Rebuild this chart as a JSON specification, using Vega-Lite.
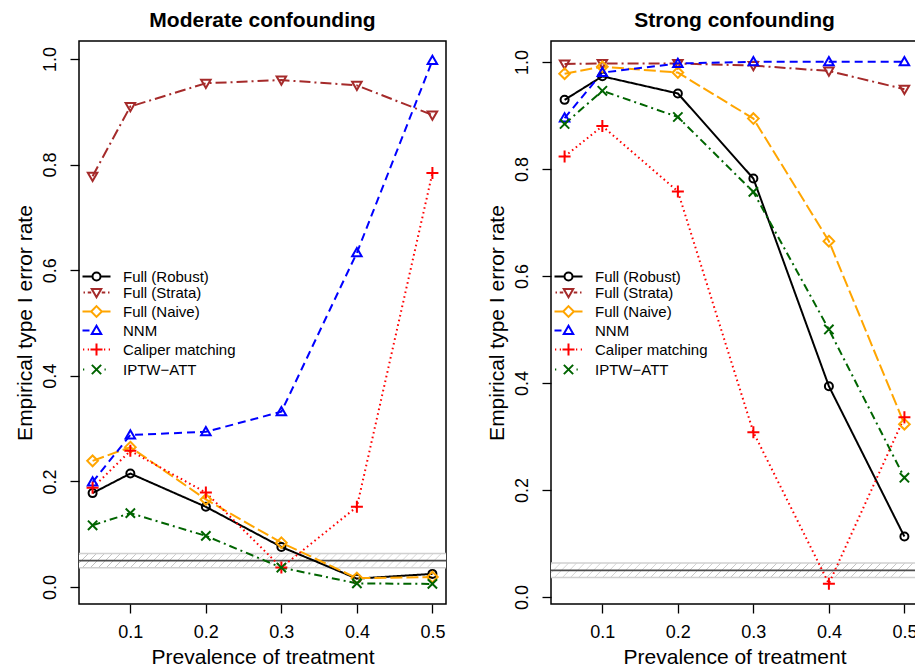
{
  "$schema": "https://vega.github.io/schema/vega-lite/v6.json",
  "background": "white",
  "padding": {"left": 13, "top": 9, "right": 0, "bottom": 0},
  "datasets": {
    "band": [{"lo": 0.0365, "hi": 0.0635, "nominal": 0.05}],
    "d": [
      {"panel": "Moderate", "method": "Full (Robust)", "x": 0.05, "y": 0.178},
      {"panel": "Moderate", "method": "Full (Robust)", "x": 0.1, "y": 0.215},
      {"panel": "Moderate", "method": "Full (Robust)", "x": 0.2, "y": 0.152},
      {"panel": "Moderate", "method": "Full (Robust)", "x": 0.3, "y": 0.076},
      {"panel": "Moderate", "method": "Full (Robust)", "x": 0.4, "y": 0.016},
      {"panel": "Moderate", "method": "Full (Robust)", "x": 0.5, "y": 0.025},
      {"panel": "Moderate", "method": "Full (Strata)", "x": 0.05, "y": 0.778},
      {"panel": "Moderate", "method": "Full (Strata)", "x": 0.1, "y": 0.910},
      {"panel": "Moderate", "method": "Full (Strata)", "x": 0.2, "y": 0.954},
      {"panel": "Moderate", "method": "Full (Strata)", "x": 0.3, "y": 0.960},
      {"panel": "Moderate", "method": "Full (Strata)", "x": 0.4, "y": 0.950},
      {"panel": "Moderate", "method": "Full (Strata)", "x": 0.5, "y": 0.894},
      {"panel": "Moderate", "method": "Full (Naive)", "x": 0.05, "y": 0.239},
      {"panel": "Moderate", "method": "Full (Naive)", "x": 0.1, "y": 0.265},
      {"panel": "Moderate", "method": "Full (Naive)", "x": 0.2, "y": 0.166},
      {"panel": "Moderate", "method": "Full (Naive)", "x": 0.3, "y": 0.084},
      {"panel": "Moderate", "method": "Full (Naive)", "x": 0.4, "y": 0.017},
      {"panel": "Moderate", "method": "Full (Naive)", "x": 0.5, "y": 0.019},
      {"panel": "Moderate", "method": "NNM", "x": 0.05, "y": 0.199},
      {"panel": "Moderate", "method": "NNM", "x": 0.1, "y": 0.288},
      {"panel": "Moderate", "method": "NNM", "x": 0.2, "y": 0.294},
      {"panel": "Moderate", "method": "NNM", "x": 0.3, "y": 0.332},
      {"panel": "Moderate", "method": "NNM", "x": 0.4, "y": 0.633},
      {"panel": "Moderate", "method": "NNM", "x": 0.5, "y": 0.997},
      {"panel": "Moderate", "method": "Caliper matching", "x": 0.05, "y": 0.188},
      {"panel": "Moderate", "method": "Caliper matching", "x": 0.1, "y": 0.258},
      {"panel": "Moderate", "method": "Caliper matching", "x": 0.2, "y": 0.179},
      {"panel": "Moderate", "method": "Caliper matching", "x": 0.3, "y": 0.037},
      {"panel": "Moderate", "method": "Caliper matching", "x": 0.4, "y": 0.152},
      {"panel": "Moderate", "method": "Caliper matching", "x": 0.5, "y": 0.784},
      {"panel": "Moderate", "method": "IPTW−ATT", "x": 0.05, "y": 0.117},
      {"panel": "Moderate", "method": "IPTW−ATT", "x": 0.1, "y": 0.140},
      {"panel": "Moderate", "method": "IPTW−ATT", "x": 0.2, "y": 0.097},
      {"panel": "Moderate", "method": "IPTW−ATT", "x": 0.3, "y": 0.037},
      {"panel": "Moderate", "method": "IPTW−ATT", "x": 0.4, "y": 0.007},
      {"panel": "Moderate", "method": "IPTW−ATT", "x": 0.5, "y": 0.006},
      {"panel": "Strong", "method": "Full (Robust)", "x": 0.05, "y": 0.929},
      {"panel": "Strong", "method": "Full (Robust)", "x": 0.1, "y": 0.973},
      {"panel": "Strong", "method": "Full (Robust)", "x": 0.2, "y": 0.941},
      {"panel": "Strong", "method": "Full (Robust)", "x": 0.3, "y": 0.782},
      {"panel": "Strong", "method": "Full (Robust)", "x": 0.4, "y": 0.394},
      {"panel": "Strong", "method": "Full (Robust)", "x": 0.5, "y": 0.113},
      {"panel": "Strong", "method": "Full (Strata)", "x": 0.05, "y": 0.996},
      {"panel": "Strong", "method": "Full (Strata)", "x": 0.1, "y": 0.997},
      {"panel": "Strong", "method": "Full (Strata)", "x": 0.2, "y": 0.997},
      {"panel": "Strong", "method": "Full (Strata)", "x": 0.3, "y": 0.993},
      {"panel": "Strong", "method": "Full (Strata)", "x": 0.4, "y": 0.983},
      {"panel": "Strong", "method": "Full (Strata)", "x": 0.5, "y": 0.949},
      {"panel": "Strong", "method": "Full (Naive)", "x": 0.05, "y": 0.978},
      {"panel": "Strong", "method": "Full (Naive)", "x": 0.1, "y": 0.991},
      {"panel": "Strong", "method": "Full (Naive)", "x": 0.2, "y": 0.980},
      {"panel": "Strong", "method": "Full (Naive)", "x": 0.3, "y": 0.894},
      {"panel": "Strong", "method": "Full (Naive)", "x": 0.4, "y": 0.665},
      {"panel": "Strong", "method": "Full (Naive)", "x": 0.5, "y": 0.323},
      {"panel": "Strong", "method": "NNM", "x": 0.05, "y": 0.895},
      {"panel": "Strong", "method": "NNM", "x": 0.1, "y": 0.980},
      {"panel": "Strong", "method": "NNM", "x": 0.2, "y": 0.997},
      {"panel": "Strong", "method": "NNM", "x": 0.3, "y": 1.0},
      {"panel": "Strong", "method": "NNM", "x": 0.4, "y": 1.0},
      {"panel": "Strong", "method": "NNM", "x": 0.5, "y": 1.0},
      {"panel": "Strong", "method": "Caliper matching", "x": 0.05, "y": 0.823},
      {"panel": "Strong", "method": "Caliper matching", "x": 0.1, "y": 0.880},
      {"panel": "Strong", "method": "Caliper matching", "x": 0.2, "y": 0.758},
      {"panel": "Strong", "method": "Caliper matching", "x": 0.3, "y": 0.308},
      {"panel": "Strong", "method": "Caliper matching", "x": 0.4, "y": 0.025},
      {"panel": "Strong", "method": "Caliper matching", "x": 0.5, "y": 0.336},
      {"panel": "Strong", "method": "IPTW−ATT", "x": 0.05, "y": 0.884},
      {"panel": "Strong", "method": "IPTW−ATT", "x": 0.1, "y": 0.946},
      {"panel": "Strong", "method": "IPTW−ATT", "x": 0.2, "y": 0.897},
      {"panel": "Strong", "method": "IPTW−ATT", "x": 0.3, "y": 0.757},
      {"panel": "Strong", "method": "IPTW−ATT", "x": 0.4, "y": 0.500},
      {"panel": "Strong", "method": "IPTW−ATT", "x": 0.5, "y": 0.223}
    ]
  },
  "spacing": 37,
  "resolve": {
    "scale": {"x": "independent", "y": "independent", "color": "independent", "shape": "independent", "strokeDash": "independent"},
    "legend": {"color": "independent"},
    "axis": {"x": "independent", "y": "independent"}
  },
  "hconcat": [
    {
      "width": 367, "height": 563,
      "title": {"text": "Moderate confounding"},
      "layer": [
        {"data": {"name": "band"},
         "mark": {"type": "rect", "color": {"gradient": "linear", "x1": 0, "y1": 0, "x2": 1, "y2": 0.039, "stops": [
          {"offset": 0, "color": "#ffffff"},
          {"offset": 0.002, "color": "#ffffff"}, {"offset": 0.004, "color": "#bdbdbd"}, {"offset": 0.006, "color": "#ffffff"},
          {"offset": 0.0238, "color": "#ffffff"}, {"offset": 0.0258, "color": "#bdbdbd"}, {"offset": 0.0278, "color": "#ffffff"},
          {"offset": 0.0456, "color": "#ffffff"}, {"offset": 0.0476, "color": "#bdbdbd"}, {"offset": 0.0496, "color": "#ffffff"},
          {"offset": 0.0674, "color": "#ffffff"}, {"offset": 0.0694, "color": "#bdbdbd"}, {"offset": 0.0714, "color": "#ffffff"},
          {"offset": 0.0892, "color": "#ffffff"}, {"offset": 0.0912, "color": "#bdbdbd"}, {"offset": 0.0932, "color": "#ffffff"},
          {"offset": 0.111, "color": "#ffffff"}, {"offset": 0.113, "color": "#bdbdbd"}, {"offset": 0.115, "color": "#ffffff"},
          {"offset": 0.1328, "color": "#ffffff"}, {"offset": 0.1348, "color": "#bdbdbd"}, {"offset": 0.1368, "color": "#ffffff"},
          {"offset": 0.1546, "color": "#ffffff"}, {"offset": 0.1566, "color": "#bdbdbd"}, {"offset": 0.1586, "color": "#ffffff"},
          {"offset": 0.1764, "color": "#ffffff"}, {"offset": 0.1784, "color": "#bdbdbd"}, {"offset": 0.1804, "color": "#ffffff"},
          {"offset": 0.1982, "color": "#ffffff"}, {"offset": 0.2002, "color": "#bdbdbd"}, {"offset": 0.2022, "color": "#ffffff"},
          {"offset": 0.22, "color": "#ffffff"}, {"offset": 0.222, "color": "#bdbdbd"}, {"offset": 0.224, "color": "#ffffff"},
          {"offset": 0.2418, "color": "#ffffff"}, {"offset": 0.2438, "color": "#bdbdbd"}, {"offset": 0.2458, "color": "#ffffff"},
          {"offset": 0.2636, "color": "#ffffff"}, {"offset": 0.2656, "color": "#bdbdbd"}, {"offset": 0.2676, "color": "#ffffff"},
          {"offset": 0.2854, "color": "#ffffff"}, {"offset": 0.2874, "color": "#bdbdbd"}, {"offset": 0.2894, "color": "#ffffff"},
          {"offset": 0.3072, "color": "#ffffff"}, {"offset": 0.3092, "color": "#bdbdbd"}, {"offset": 0.3112, "color": "#ffffff"},
          {"offset": 0.329, "color": "#ffffff"}, {"offset": 0.331, "color": "#bdbdbd"}, {"offset": 0.333, "color": "#ffffff"},
          {"offset": 0.3508, "color": "#ffffff"}, {"offset": 0.3528, "color": "#bdbdbd"}, {"offset": 0.3548, "color": "#ffffff"},
          {"offset": 0.3726, "color": "#ffffff"}, {"offset": 0.3746, "color": "#bdbdbd"}, {"offset": 0.3766, "color": "#ffffff"},
          {"offset": 0.3944, "color": "#ffffff"}, {"offset": 0.3964, "color": "#bdbdbd"}, {"offset": 0.3984, "color": "#ffffff"},
          {"offset": 0.4162, "color": "#ffffff"}, {"offset": 0.4182, "color": "#bdbdbd"}, {"offset": 0.4202, "color": "#ffffff"},
          {"offset": 0.438, "color": "#ffffff"}, {"offset": 0.44, "color": "#bdbdbd"}, {"offset": 0.442, "color": "#ffffff"},
          {"offset": 0.4598, "color": "#ffffff"}, {"offset": 0.4618, "color": "#bdbdbd"}, {"offset": 0.4638, "color": "#ffffff"},
          {"offset": 0.4816, "color": "#ffffff"}, {"offset": 0.4836, "color": "#bdbdbd"}, {"offset": 0.4856, "color": "#ffffff"},
          {"offset": 0.5034, "color": "#ffffff"}, {"offset": 0.5054, "color": "#bdbdbd"}, {"offset": 0.5074, "color": "#ffffff"},
          {"offset": 0.5252, "color": "#ffffff"}, {"offset": 0.5272, "color": "#bdbdbd"}, {"offset": 0.5292, "color": "#ffffff"},
          {"offset": 0.547, "color": "#ffffff"}, {"offset": 0.549, "color": "#bdbdbd"}, {"offset": 0.551, "color": "#ffffff"},
          {"offset": 0.5688, "color": "#ffffff"}, {"offset": 0.5708, "color": "#bdbdbd"}, {"offset": 0.5728, "color": "#ffffff"},
          {"offset": 0.5906, "color": "#ffffff"}, {"offset": 0.5926, "color": "#bdbdbd"}, {"offset": 0.5946, "color": "#ffffff"},
          {"offset": 0.6124, "color": "#ffffff"}, {"offset": 0.6144, "color": "#bdbdbd"}, {"offset": 0.6164, "color": "#ffffff"},
          {"offset": 0.6342, "color": "#ffffff"}, {"offset": 0.6362, "color": "#bdbdbd"}, {"offset": 0.6382, "color": "#ffffff"},
          {"offset": 0.656, "color": "#ffffff"}, {"offset": 0.658, "color": "#bdbdbd"}, {"offset": 0.66, "color": "#ffffff"},
          {"offset": 0.6778, "color": "#ffffff"}, {"offset": 0.6798, "color": "#bdbdbd"}, {"offset": 0.6818, "color": "#ffffff"},
          {"offset": 0.6996, "color": "#ffffff"}, {"offset": 0.7016, "color": "#bdbdbd"}, {"offset": 0.7036, "color": "#ffffff"},
          {"offset": 0.7214, "color": "#ffffff"}, {"offset": 0.7234, "color": "#bdbdbd"}, {"offset": 0.7254, "color": "#ffffff"},
          {"offset": 0.7432, "color": "#ffffff"}, {"offset": 0.7452, "color": "#bdbdbd"}, {"offset": 0.7472, "color": "#ffffff"},
          {"offset": 0.765, "color": "#ffffff"}, {"offset": 0.767, "color": "#bdbdbd"}, {"offset": 0.769, "color": "#ffffff"},
          {"offset": 0.7868, "color": "#ffffff"}, {"offset": 0.7888, "color": "#bdbdbd"}, {"offset": 0.7908, "color": "#ffffff"},
          {"offset": 0.8086, "color": "#ffffff"}, {"offset": 0.8106, "color": "#bdbdbd"}, {"offset": 0.8126, "color": "#ffffff"},
          {"offset": 0.8304, "color": "#ffffff"}, {"offset": 0.8324, "color": "#bdbdbd"}, {"offset": 0.8344, "color": "#ffffff"},
          {"offset": 0.8522, "color": "#ffffff"}, {"offset": 0.8542, "color": "#bdbdbd"}, {"offset": 0.8562, "color": "#ffffff"},
          {"offset": 0.874, "color": "#ffffff"}, {"offset": 0.876, "color": "#bdbdbd"}, {"offset": 0.878, "color": "#ffffff"},
          {"offset": 0.8958, "color": "#ffffff"}, {"offset": 0.8978, "color": "#bdbdbd"}, {"offset": 0.8998, "color": "#ffffff"},
          {"offset": 0.9176, "color": "#ffffff"}, {"offset": 0.9196, "color": "#bdbdbd"}, {"offset": 0.9216, "color": "#ffffff"},
          {"offset": 0.9394, "color": "#ffffff"}, {"offset": 0.9414, "color": "#bdbdbd"}, {"offset": 0.9434, "color": "#ffffff"},
          {"offset": 0.9612, "color": "#ffffff"}, {"offset": 0.9632, "color": "#bdbdbd"}, {"offset": 0.9652, "color": "#ffffff"},
          {"offset": 0.983, "color": "#ffffff"}, {"offset": 0.985, "color": "#bdbdbd"}, {"offset": 0.987, "color": "#ffffff"},
          {"offset": 1, "color": "#ffffff"}]}},
         "encoding": {"y": {"field": "lo", "type": "quantitative", "title": "Empirical type I error rate", "scale": {"domain": [-0.032, 1.034], "nice": false, "zero": false}, "axis": {"values": [0, 0.2, 0.4, 0.6, 0.8, 1], "format": ".1f"}}, "y2": {"field": "hi"}}},
        {"data": {"name": "band"}, "mark": {"type": "rule", "color": "#d0d0d0", "strokeWidth": 1.5},
         "encoding": {"y": {"field": "lo", "type": "quantitative", "title": "Empirical type I error rate"}}},
        {"data": {"name": "band"}, "mark": {"type": "rule", "color": "#d0d0d0", "strokeWidth": 1.5},
         "encoding": {"y": {"field": "hi", "type": "quantitative", "title": "Empirical type I error rate"}}},
        {"data": {"name": "band"}, "mark": {"type": "rule", "color": "#4d4d4d", "strokeWidth": 1.8},
         "encoding": {"y": {"field": "nominal", "type": "quantitative", "title": "Empirical type I error rate"}}},
        {"data": {"name": "d"}, "transform": [{"filter": "datum.panel === 'Moderate'"}],
         "mark": {"type": "line", "strokeWidth": 2},
         "encoding": {
           "x": {"field": "x", "type": "quantitative", "title": "Prevalence of treatment", "scale": {"domain": [0.032, 0.518], "nice": false, "zero": false}, "axis": {"values": [0.1, 0.2, 0.3, 0.4, 0.5], "format": ".1f"}},
           "y": {"field": "y", "type": "quantitative", "title": "Empirical type I error rate"},
           "color": {"field": "method", "type": "nominal",
             "scale": {"domain": ["Full (Robust)", "Full (Strata)", "Full (Naive)", "NNM", "Caliper matching", "IPTW−ATT"], "range": ["#000000", "#A52A2A", "#FFA500", "#0000FF", "#FF0000", "#006400"]},
             "legend": {"title": null, "orient": "none", "legendX": 10, "legendY": 228, "padding": 0, "rowPadding": 0, "labelOffset": 19, "symbolSize": 100, "labelLimit": 400,
               "encode": {"symbols": {"update": {
                 "shape": {"signal": "datum.value === 'Full (Robust)' ? 'M-2.8,0H-0.8M0.8,0H2.8M0.8,0A0.8,0.8,0,1,1,-0.8,0A0.8,0.8,0,1,1,0.8,0Z' : datum.value === 'Full (Strata)' ? 'M-2.6,0H-2.3M-1.75,0H-1.05M1.05,0H1.75M2.3,0H2.6M-0.95,-0.7L0.95,-0.7L0,0.95Z' : datum.value === 'Full (Naive)' ? 'M-2.8,0H-1.07M1.07,0H2.8M0,-1.07L1.07,0L0,1.07L-1.07,0Z' : datum.value === 'NNM' ? 'M-2.8,0H-1.4M0,-0.95L0.95,0.7L-0.95,0.7Z' : datum.value === 'Caliper matching' ? 'M-2.7,0H-2.45M-1.75,0H-1.5M1.5,0H1.75M2.45,0H2.7M-1.2,0H1.2M0,-1.2V1.2' : 'M-2.7,0H-2.45M1.6,0H1.85M-0.93,-0.93L0.93,0.93M0.93,-0.93L-0.93,0.93'"},
                 "fill": {"value": "transparent"}, "strokeWidth": {"value": 2}, "strokeDash": {"value": []}, "opacity": {"value": 1}, "size": {"value": 100}}}}}},
           "strokeDash": {"field": "method", "type": "nominal", "legend": null,
             "scale": {"domain": ["IPTW−ATT", "Caliper matching", "NNM", "Full (Naive)", "Full (Strata)", "Full (Robust)"], "range": [[8, 4, 2, 4], [1.6, 3.2], [8, 5], [12, 4], [11, 4, 2, 4], [1, 0]]}}
         }},
        {"data": {"name": "d"}, "transform": [{"filter": "datum.panel === 'Moderate'"}],
         "mark": {"type": "point", "filled": false, "size": 100, "strokeWidth": 2, "opacity": 1},
         "encoding": {
           "x": {"field": "x", "type": "quantitative", "title": "Prevalence of treatment"},
           "y": {"field": "y", "type": "quantitative", "title": "Empirical type I error rate"},
           "color": {"field": "method", "type": "nominal", "legend": null},
           "shape": {"field": "method", "type": "nominal", "legend": null,
             "scale": {"domain": ["IPTW−ATT", "Caliper matching", "NNM", "Full (Naive)", "Full (Strata)", "Full (Robust)"], "range": ["M-0.93,-0.93L0.93,0.93M0.93,-0.93L-0.93,0.93", "M-1.2,0H1.2M0,-1.2V1.2", "M0,-0.95L0.95,0.7L-0.95,0.7Z", "M0,-1.07L1.07,0L0,1.07L-1.07,0Z", "M-0.95,-0.7L0.95,-0.7L0,0.95Z", "M0.8,0A0.8,0.8,0,1,1,-0.8,0A0.8,0.8,0,1,1,0.8,0Z"]}}
         }}
      ]
    },
    {
      "width": 367, "height": 563,
      "title": {"text": "Strong confounding"},
      "layer": [
        {"data": {"name": "band"},
         "mark": {"type": "rect", "color": {"gradient": "linear", "x1": 0, "y1": 0, "x2": 1, "y2": 0.039, "stops": [
          {"offset": 0, "color": "#ffffff"},
          {"offset": 0.002, "color": "#ffffff"}, {"offset": 0.004, "color": "#bdbdbd"}, {"offset": 0.006, "color": "#ffffff"},
          {"offset": 0.0238, "color": "#ffffff"}, {"offset": 0.0258, "color": "#bdbdbd"}, {"offset": 0.0278, "color": "#ffffff"},
          {"offset": 0.0456, "color": "#ffffff"}, {"offset": 0.0476, "color": "#bdbdbd"}, {"offset": 0.0496, "color": "#ffffff"},
          {"offset": 0.0674, "color": "#ffffff"}, {"offset": 0.0694, "color": "#bdbdbd"}, {"offset": 0.0714, "color": "#ffffff"},
          {"offset": 0.0892, "color": "#ffffff"}, {"offset": 0.0912, "color": "#bdbdbd"}, {"offset": 0.0932, "color": "#ffffff"},
          {"offset": 0.111, "color": "#ffffff"}, {"offset": 0.113, "color": "#bdbdbd"}, {"offset": 0.115, "color": "#ffffff"},
          {"offset": 0.1328, "color": "#ffffff"}, {"offset": 0.1348, "color": "#bdbdbd"}, {"offset": 0.1368, "color": "#ffffff"},
          {"offset": 0.1546, "color": "#ffffff"}, {"offset": 0.1566, "color": "#bdbdbd"}, {"offset": 0.1586, "color": "#ffffff"},
          {"offset": 0.1764, "color": "#ffffff"}, {"offset": 0.1784, "color": "#bdbdbd"}, {"offset": 0.1804, "color": "#ffffff"},
          {"offset": 0.1982, "color": "#ffffff"}, {"offset": 0.2002, "color": "#bdbdbd"}, {"offset": 0.2022, "color": "#ffffff"},
          {"offset": 0.22, "color": "#ffffff"}, {"offset": 0.222, "color": "#bdbdbd"}, {"offset": 0.224, "color": "#ffffff"},
          {"offset": 0.2418, "color": "#ffffff"}, {"offset": 0.2438, "color": "#bdbdbd"}, {"offset": 0.2458, "color": "#ffffff"},
          {"offset": 0.2636, "color": "#ffffff"}, {"offset": 0.2656, "color": "#bdbdbd"}, {"offset": 0.2676, "color": "#ffffff"},
          {"offset": 0.2854, "color": "#ffffff"}, {"offset": 0.2874, "color": "#bdbdbd"}, {"offset": 0.2894, "color": "#ffffff"},
          {"offset": 0.3072, "color": "#ffffff"}, {"offset": 0.3092, "color": "#bdbdbd"}, {"offset": 0.3112, "color": "#ffffff"},
          {"offset": 0.329, "color": "#ffffff"}, {"offset": 0.331, "color": "#bdbdbd"}, {"offset": 0.333, "color": "#ffffff"},
          {"offset": 0.3508, "color": "#ffffff"}, {"offset": 0.3528, "color": "#bdbdbd"}, {"offset": 0.3548, "color": "#ffffff"},
          {"offset": 0.3726, "color": "#ffffff"}, {"offset": 0.3746, "color": "#bdbdbd"}, {"offset": 0.3766, "color": "#ffffff"},
          {"offset": 0.3944, "color": "#ffffff"}, {"offset": 0.3964, "color": "#bdbdbd"}, {"offset": 0.3984, "color": "#ffffff"},
          {"offset": 0.4162, "color": "#ffffff"}, {"offset": 0.4182, "color": "#bdbdbd"}, {"offset": 0.4202, "color": "#ffffff"},
          {"offset": 0.438, "color": "#ffffff"}, {"offset": 0.44, "color": "#bdbdbd"}, {"offset": 0.442, "color": "#ffffff"},
          {"offset": 0.4598, "color": "#ffffff"}, {"offset": 0.4618, "color": "#bdbdbd"}, {"offset": 0.4638, "color": "#ffffff"},
          {"offset": 0.4816, "color": "#ffffff"}, {"offset": 0.4836, "color": "#bdbdbd"}, {"offset": 0.4856, "color": "#ffffff"},
          {"offset": 0.5034, "color": "#ffffff"}, {"offset": 0.5054, "color": "#bdbdbd"}, {"offset": 0.5074, "color": "#ffffff"},
          {"offset": 0.5252, "color": "#ffffff"}, {"offset": 0.5272, "color": "#bdbdbd"}, {"offset": 0.5292, "color": "#ffffff"},
          {"offset": 0.547, "color": "#ffffff"}, {"offset": 0.549, "color": "#bdbdbd"}, {"offset": 0.551, "color": "#ffffff"},
          {"offset": 0.5688, "color": "#ffffff"}, {"offset": 0.5708, "color": "#bdbdbd"}, {"offset": 0.5728, "color": "#ffffff"},
          {"offset": 0.5906, "color": "#ffffff"}, {"offset": 0.5926, "color": "#bdbdbd"}, {"offset": 0.5946, "color": "#ffffff"},
          {"offset": 0.6124, "color": "#ffffff"}, {"offset": 0.6144, "color": "#bdbdbd"}, {"offset": 0.6164, "color": "#ffffff"},
          {"offset": 0.6342, "color": "#ffffff"}, {"offset": 0.6362, "color": "#bdbdbd"}, {"offset": 0.6382, "color": "#ffffff"},
          {"offset": 0.656, "color": "#ffffff"}, {"offset": 0.658, "color": "#bdbdbd"}, {"offset": 0.66, "color": "#ffffff"},
          {"offset": 0.6778, "color": "#ffffff"}, {"offset": 0.6798, "color": "#bdbdbd"}, {"offset": 0.6818, "color": "#ffffff"},
          {"offset": 0.6996, "color": "#ffffff"}, {"offset": 0.7016, "color": "#bdbdbd"}, {"offset": 0.7036, "color": "#ffffff"},
          {"offset": 0.7214, "color": "#ffffff"}, {"offset": 0.7234, "color": "#bdbdbd"}, {"offset": 0.7254, "color": "#ffffff"},
          {"offset": 0.7432, "color": "#ffffff"}, {"offset": 0.7452, "color": "#bdbdbd"}, {"offset": 0.7472, "color": "#ffffff"},
          {"offset": 0.765, "color": "#ffffff"}, {"offset": 0.767, "color": "#bdbdbd"}, {"offset": 0.769, "color": "#ffffff"},
          {"offset": 0.7868, "color": "#ffffff"}, {"offset": 0.7888, "color": "#bdbdbd"}, {"offset": 0.7908, "color": "#ffffff"},
          {"offset": 0.8086, "color": "#ffffff"}, {"offset": 0.8106, "color": "#bdbdbd"}, {"offset": 0.8126, "color": "#ffffff"},
          {"offset": 0.8304, "color": "#ffffff"}, {"offset": 0.8324, "color": "#bdbdbd"}, {"offset": 0.8344, "color": "#ffffff"},
          {"offset": 0.8522, "color": "#ffffff"}, {"offset": 0.8542, "color": "#bdbdbd"}, {"offset": 0.8562, "color": "#ffffff"},
          {"offset": 0.874, "color": "#ffffff"}, {"offset": 0.876, "color": "#bdbdbd"}, {"offset": 0.878, "color": "#ffffff"},
          {"offset": 0.8958, "color": "#ffffff"}, {"offset": 0.8978, "color": "#bdbdbd"}, {"offset": 0.8998, "color": "#ffffff"},
          {"offset": 0.9176, "color": "#ffffff"}, {"offset": 0.9196, "color": "#bdbdbd"}, {"offset": 0.9216, "color": "#ffffff"},
          {"offset": 0.9394, "color": "#ffffff"}, {"offset": 0.9414, "color": "#bdbdbd"}, {"offset": 0.9434, "color": "#ffffff"},
          {"offset": 0.9612, "color": "#ffffff"}, {"offset": 0.9632, "color": "#bdbdbd"}, {"offset": 0.9652, "color": "#ffffff"},
          {"offset": 0.983, "color": "#ffffff"}, {"offset": 0.985, "color": "#bdbdbd"}, {"offset": 0.987, "color": "#ffffff"},
          {"offset": 1, "color": "#ffffff"}]}},
         "encoding": {"y": {"field": "lo", "type": "quantitative", "title": "Empirical type I error rate", "scale": {"domain": [-0.013, 1.039], "nice": false, "zero": false}, "axis": {"values": [0, 0.2, 0.4, 0.6, 0.8, 1], "format": ".1f"}}, "y2": {"field": "hi"}}},
        {"data": {"name": "band"}, "mark": {"type": "rule", "color": "#d0d0d0", "strokeWidth": 1.5},
         "encoding": {"y": {"field": "lo", "type": "quantitative", "title": "Empirical type I error rate"}}},
        {"data": {"name": "band"}, "mark": {"type": "rule", "color": "#d0d0d0", "strokeWidth": 1.5},
         "encoding": {"y": {"field": "hi", "type": "quantitative", "title": "Empirical type I error rate"}}},
        {"data": {"name": "band"}, "mark": {"type": "rule", "color": "#4d4d4d", "strokeWidth": 1.8},
         "encoding": {"y": {"field": "nominal", "type": "quantitative", "title": "Empirical type I error rate"}}},
        {"data": {"name": "d"}, "transform": [{"filter": "datum.panel === 'Strong'"}],
         "mark": {"type": "line", "strokeWidth": 2},
         "encoding": {
           "x": {"field": "x", "type": "quantitative", "title": "Prevalence of treatment", "scale": {"domain": [0.032, 0.518], "nice": false, "zero": false}, "axis": {"values": [0.1, 0.2, 0.3, 0.4, 0.5], "format": ".1f"}},
           "y": {"field": "y", "type": "quantitative", "title": "Empirical type I error rate"},
           "color": {"field": "method", "type": "nominal",
             "scale": {"domain": ["Full (Robust)", "Full (Strata)", "Full (Naive)", "NNM", "Caliper matching", "IPTW−ATT"], "range": ["#000000", "#A52A2A", "#FFA500", "#0000FF", "#FF0000", "#006400"]},
             "legend": {"title": null, "orient": "none", "legendX": 10, "legendY": 228, "padding": 0, "rowPadding": 0, "labelOffset": 19, "symbolSize": 100, "labelLimit": 400,
               "encode": {"symbols": {"update": {
                 "shape": {"signal": "datum.value === 'Full (Robust)' ? 'M-2.8,0H-0.8M0.8,0H2.8M0.8,0A0.8,0.8,0,1,1,-0.8,0A0.8,0.8,0,1,1,0.8,0Z' : datum.value === 'Full (Strata)' ? 'M-2.6,0H-2.3M-1.75,0H-1.05M1.05,0H1.75M2.3,0H2.6M-0.95,-0.7L0.95,-0.7L0,0.95Z' : datum.value === 'Full (Naive)' ? 'M-2.8,0H-1.07M1.07,0H2.8M0,-1.07L1.07,0L0,1.07L-1.07,0Z' : datum.value === 'NNM' ? 'M-2.8,0H-1.4M0,-0.95L0.95,0.7L-0.95,0.7Z' : datum.value === 'Caliper matching' ? 'M-2.7,0H-2.45M-1.75,0H-1.5M1.5,0H1.75M2.45,0H2.7M-1.2,0H1.2M0,-1.2V1.2' : 'M-2.7,0H-2.45M1.6,0H1.85M-0.93,-0.93L0.93,0.93M0.93,-0.93L-0.93,0.93'"},
                 "fill": {"value": "transparent"}, "strokeWidth": {"value": 2}, "strokeDash": {"value": []}, "opacity": {"value": 1}, "size": {"value": 100}}}}}},
           "strokeDash": {"field": "method", "type": "nominal", "legend": null,
             "scale": {"domain": ["IPTW−ATT", "Caliper matching", "NNM", "Full (Naive)", "Full (Strata)", "Full (Robust)"], "range": [[8, 4, 2, 4], [1.6, 3.2], [8, 5], [12, 4], [11, 4, 2, 4], [1, 0]]}}
         }},
        {"data": {"name": "d"}, "transform": [{"filter": "datum.panel === 'Strong'"}],
         "mark": {"type": "point", "filled": false, "size": 100, "strokeWidth": 2, "opacity": 1},
         "encoding": {
           "x": {"field": "x", "type": "quantitative", "title": "Prevalence of treatment"},
           "y": {"field": "y", "type": "quantitative", "title": "Empirical type I error rate"},
           "color": {"field": "method", "type": "nominal", "legend": null},
           "shape": {"field": "method", "type": "nominal", "legend": null,
             "scale": {"domain": ["IPTW−ATT", "Caliper matching", "NNM", "Full (Naive)", "Full (Strata)", "Full (Robust)"], "range": ["M-0.93,-0.93L0.93,0.93M0.93,-0.93L-0.93,0.93", "M-1.2,0H1.2M0,-1.2V1.2", "M0,-0.95L0.95,0.7L-0.95,0.7Z", "M0,-1.07L1.07,0L0,1.07L-1.07,0Z", "M-0.95,-0.7L0.95,-0.7L0,0.95Z", "M0.8,0A0.8,0.8,0,1,1,-0.8,0A0.8,0.8,0,1,1,0.8,0Z"]}}
         }}
      ]
    }
  ],
  "config": {
    "font": "Liberation Sans",
    "view": {"stroke": "#000000", "strokeWidth": 1.5},
    "title": {"font": "Liberation Sans", "fontSize": 21, "fontWeight": "bold", "color": "#000000", "offset": 10, "anchor": "middle"},
    "axis": {"domain": false, "grid": false, "tickColor": "#000000", "tickWidth": 1.3, "tickSize": 9, "labelFont": "Liberation Sans", "labelFontSize": 18, "labelColor": "#000000", "titleFont": "Liberation Sans", "titleFontSize": 21, "titleFontWeight": "normal", "titleColor": "#000000", "labelFlush": false, "labelOverlap": false},
    "axisY": {"labelAngle": -90, "labelAlign": "center", "labelBaseline": "bottom", "labelPadding": 11, "titlePadding": 6},
    "axisX": {"labelPadding": 10, "titlePadding": 5},
    "legend": {"labelFont": "Liberation Sans", "labelFontSize": 15, "labelColor": "#000000"}
  }
}
